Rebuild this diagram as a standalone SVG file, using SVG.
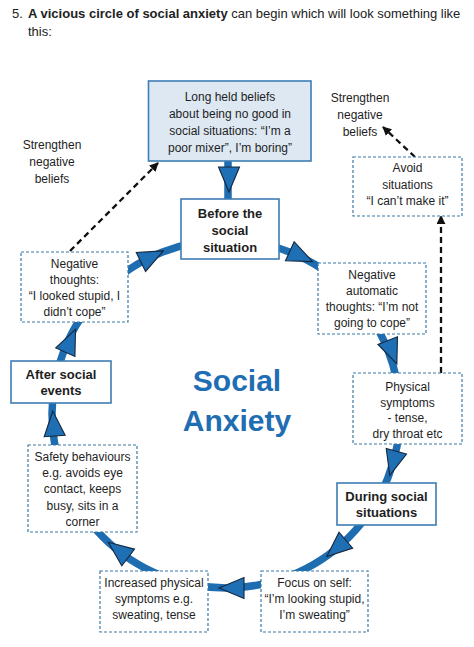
<svg xmlns="http://www.w3.org/2000/svg" xmlns:xlink="http://www.w3.org/1999/xlink" width="474" height="647" viewBox="0 0 474 647">
<defs>
<style>
.t{font-family:"Liberation Sans",Arial,sans-serif;font-size:12px;fill:#1e1e1e;text-anchor:middle}
.b{font-family:"Liberation Sans",Arial,sans-serif;font-size:13px;font-weight:bold;fill:#1e1e1e;text-anchor:middle}
.solid{fill:#fff;stroke:#3d7db3;stroke-width:1.6}
.dash{fill:#fff;stroke:#3d7aa6;stroke-width:1.2;stroke-dasharray:3 2}
.ring{fill:none;stroke:#1e6db1;stroke-width:7.5}
.dl{fill:none;stroke:#111;stroke-width:2.3;stroke-dasharray:6 4}
.ah{fill:#1f6fb4;stroke:#16263d;stroke-width:1.1;stroke-linejoin:miter}
</style>
<polygon id="ah" points="16,0 -9,-10.5 -9,10.5"/>
<marker id="bk" viewBox="0 0 10 10" refX="9" refY="5" markerWidth="9" markerHeight="9" markerUnits="userSpaceOnUse" orient="auto">
<path d="M0,0 L10,5 L0,10 z" fill="#111"/>
</marker>
</defs>
<rect width="474" height="647" fill="#fff"/>
<text x="12" y="18" style="font-family:'Liberation Sans',Arial,sans-serif;font-size:13px;fill:#222">5.<tspan x="28" font-weight="bold">A vicious circle of social anxiety</tspan> can begin which will look something like</text>
<text x="28" y="36" style="font-family:'Liberation Sans',Arial,sans-serif;font-size:13px;fill:#222">this:</text>

<g id="connectors">
<circle class="ring" cx="226" cy="414" r="174"/>
<line class="ring" x1="228" y1="160" x2="228" y2="200"/>
<g class="ah">
<use xlink:href="#ah" href="#ah" transform="translate(229,176) rotate(90)"/>
<use xlink:href="#ah" href="#ah" transform="translate(298,255) rotate(24.4)"/>
<use xlink:href="#ah" href="#ah" transform="translate(391,349) rotate(68.5)"/>
<use xlink:href="#ah" href="#ah" transform="translate(394,460) rotate(105.3)"/>
<use xlink:href="#ah" href="#ah" transform="translate(339,546) rotate(139.4)"/>
<use xlink:href="#ah" href="#ah" transform="translate(235,588) rotate(180)"/>
<use xlink:href="#ah" href="#ah" transform="translate(121,552) rotate(217.3)"/>
<use xlink:href="#ah" href="#ah" transform="translate(54,427) rotate(265.7)"/>
<use xlink:href="#ah" href="#ah" transform="translate(69,344) rotate(294)"/>
<use xlink:href="#ah" href="#ah" transform="translate(149,258) rotate(-26.3)"/>
</g>
<line class="dl" x1="70" y1="251" x2="158" y2="163" marker-end="url(#bk)"/>
<line class="dl" x1="415" y1="157" x2="383" y2="127" marker-end="url(#bk)"/>
<line class="dl" x1="441" y1="373" x2="441" y2="216" marker-end="url(#bk)"/>
</g>

<g id="long-held-beliefs">
<rect x="148.5" y="81" width="162.5" height="80" fill="#dde8f3" stroke="#3d7db3" stroke-width="1.6"/>
<text class="t" x="230" y="101">Long held beliefs</text>
<text class="t" x="230" y="118">about being no good in</text>
<text class="t" x="230" y="135">social situations: “I’m a</text>
<text class="t" x="230" y="152">poor mixer”, I’m boring”</text>
</g>

<g id="before">
<rect class="solid" x="181" y="199" width="98" height="60"/>
<text class="b" x="230" y="218">Before the</text>
<text class="b" x="230" y="235">social</text>
<text class="b" x="230" y="252">situation</text>
</g>

<g id="neg-automatic">
<rect class="dash" x="318" y="263" width="108" height="71"/>
<text class="t" x="372" y="279">Negative</text>
<text class="t" x="372" y="295">automatic</text>
<text class="t" x="372" y="311">thoughts: “I’m not</text>
<text class="t" x="372" y="327">going to cope”</text>
</g>

<g id="physical">
<rect class="dash" x="353" y="373" width="109" height="71"/>
<text class="t" x="407.5" y="391">Physical</text>
<text class="t" x="407.5" y="406.5">symptoms</text>
<text class="t" x="407.5" y="422">- tense,</text>
<text class="t" x="407.5" y="437.5">dry throat etc</text>
</g>

<g id="during">
<rect class="solid" x="337" y="483" width="99" height="42"/>
<text class="b" x="386.5" y="501">During social</text>
<text class="b" x="386.5" y="517">situations</text>
</g>

<g id="focus">
<rect class="dash" x="261" y="571" width="107" height="61"/>
<text class="t" x="314.5" y="587">Focus on self:</text>
<text class="t" x="314.5" y="603">“I’m looking stupid,</text>
<text class="t" x="314.5" y="619">I’m sweating”</text>
</g>

<g id="increased">
<rect class="dash" x="100" y="571" width="108" height="61"/>
<text class="t" x="154" y="587">Increased physical</text>
<text class="t" x="154" y="603">symptoms e.g.</text>
<text class="t" x="154" y="619">sweating, tense</text>
</g>

<g id="safety">
<rect class="dash" x="28" y="445" width="109" height="87"/>
<text class="t" x="82.5" y="461">Safety behaviours</text>
<text class="t" x="82.5" y="477">e.g. avoids eye</text>
<text class="t" x="82.5" y="493">contact, keeps</text>
<text class="t" x="82.5" y="510">busy, sits in a</text>
<text class="t" x="82.5" y="526">corner</text>
</g>

<g id="after">
<rect class="solid" x="11" y="361" width="100" height="42"/>
<text class="b" x="61" y="379">After social</text>
<text class="b" x="61" y="395">events</text>
</g>

<g id="neg-thoughts">
<rect class="dash" x="21" y="252" width="107" height="70"/>
<text class="t" x="74.5" y="268">Negative</text>
<text class="t" x="74.5" y="284">thoughts:</text>
<text class="t" x="74.5" y="300">“I looked stupid, I</text>
<text class="t" x="74.5" y="316">didn’t cope”</text>
</g>

<g id="avoid">
<rect class="dash" x="353" y="157" width="109" height="59"/>
<text class="t" x="407.5" y="172">Avoid</text>
<text class="t" x="407.5" y="189">situations</text>
<text class="t" x="407.5" y="205">“I can’t make it”</text>
</g>

<g id="strengthen-left">
<text class="t" x="52" y="149">Strengthen</text>
<text class="t" x="52" y="166">negative</text>
<text class="t" x="52" y="183">beliefs</text>
</g>

<g id="strengthen-right">
<text class="t" x="360" y="102">Strengthen</text>
<text class="t" x="360" y="119">negative</text>
<text class="t" x="360" y="136">beliefs</text>
</g>

<g id="center-label">
<text x="237" y="391" style="font-family:'Liberation Sans',Arial,sans-serif;font-size:30px;font-weight:bold;fill:#1f6db3;text-anchor:middle">Social</text>
<text x="237" y="431" style="font-family:'Liberation Sans',Arial,sans-serif;font-size:30px;font-weight:bold;fill:#1f6db3;text-anchor:middle">Anxiety</text>
</g>
</svg>
